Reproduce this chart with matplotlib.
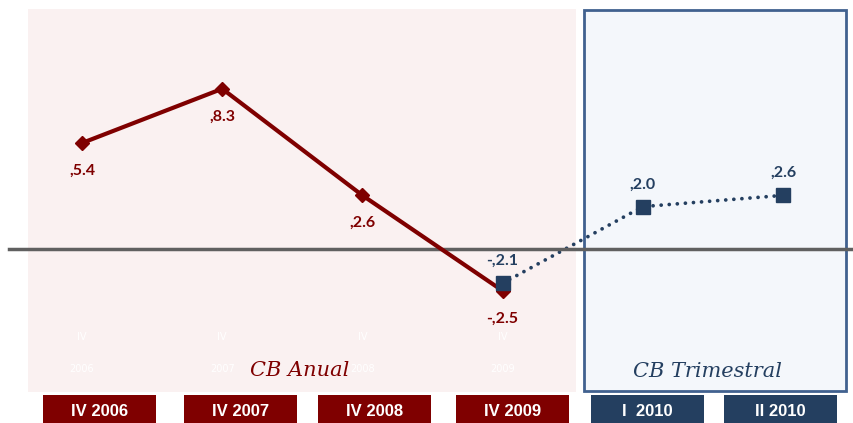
import matplotlib
matplotlib.use("Agg")
import matplotlib.pyplot as plt
from matplotlib.patches import Rectangle

# ---- data ----
annual_x = [0, 1, 2, 3]
annual_vals = [5.4, 8.3, 2.6, -2.5]
annual_labels = [",5.4", ",8.3", ",2.6", "-,2.5"]
quarter_x = [3, 4, 5]
quarter_vals = [-2.1, 2.0, 2.6]
quarter_labels = ["-,2.1", ",2.0", ",2.6"]
categories = ["IV 2006", "IV 2007", "IV 2008", "IV 2009", "I  2010", "II 2010"]
faint_top = ["IV", "IV", "IV", "IV"]
faint_bottom = ["2006", "2007", "2008", "2009"]

RED = "#7f0000"
BLUE = "#243f60"

W, H = 854, 423
fig = plt.figure(figsize=(W / 100, H / 100), dpi=100)
ax = fig.add_axes([0, 0, 1, 1])
px_x = 140.2
px_y = 18.7
x0_px = 82
zero_px = 244  # pixel row (from top) of value 0
ax.set_xlim(-x0_px / px_x, (W - x0_px) / px_x)
ax.set_ylim(-(H - zero_px) / px_y, zero_px / px_y)
ax.axis("off")

def dx(p):
    return (p - x0_px) / px_x

def dy(p):
    return (zero_px - p) / px_y

# background panels
ax.add_patch(Rectangle((dx(28), dy(392)), dx(576) - dx(28), dy(9) - dy(392),
                       facecolor="#faf1f1", edgecolor="none", zorder=0))
ax.add_patch(Rectangle((dx(584), dy(391)), dx(846) - dx(584), dy(10) - dy(391),
                       facecolor="#f4f7fb", edgecolor="#41618f", lw=2, zorder=1))

# faint tick labels
for x, t, b in zip(annual_x, faint_top, faint_bottom):
    ax.text(x, dy(337), t, color="white", fontsize=7, ha="center", va="center", zorder=2)
    ax.text(x, dy(369), b, color="white", fontsize=7, ha="center", va="center", zorder=2)

# series
ax.plot(annual_x, annual_vals, color=RED, lw=3, marker="D", markersize=7,
        zorder=4)
ax.plot(quarter_x, quarter_vals, color=BLUE, lw=2.7, linestyle=(0, (0.01, 2.15)),
        dash_capstyle="round", zorder=3)
ax.plot(quarter_x, quarter_vals, color=BLUE, lw=0, marker="s", markersize=10, zorder=5)

# baseline (drawn above the dotted line)
ax.axhline(dy(249), xmin=9 / W, xmax=1, color="#606060", lw=2.5, zorder=3.5)

lab_font = dict(family=["Lato", "DejaVu Sans"], fontweight="bold", fontsize=11.5)
for x, v, t in zip(annual_x, annual_vals, annual_labels):
    ax.annotate(t, (x, v), xytext=(0, -20), textcoords="offset points",
                ha="center", va="center", color=RED, zorder=6, **lab_font)
for x, v, t in zip(quarter_x, quarter_vals, quarter_labels):
    ax.annotate(t, (x, v), xytext=(0, 16), textcoords="offset points",
                ha="center", va="center", color=BLUE, zorder=6, **lab_font)

# panel titles
ax.text(dx(300), dy(370), "CB Anual", color=RED, fontsize=15, style="italic",
        family="DejaVu Serif", ha="center", va="center", zorder=6)
ax.text(dx(707), dy(371), "CB Trimestral", color=BLUE, fontsize=15, style="italic",
        family="DejaVu Serif", ha="center", va="center", zorder=6)

# category boxes
box_lr = [(43, 156), (184, 297), (318, 431), (456, 569), (591, 704), (724, 837)]
box_colors = [RED, RED, RED, RED, BLUE, BLUE]
for (l, r), c, lab in zip(box_lr, box_colors, categories):
    ax.add_patch(Rectangle((dx(l), dy(430)), dx(r) - dx(l), dy(395) - dy(430),
                           facecolor=c, edgecolor="none", zorder=3))
    ax.text(dx((l + r) / 2), dy(411), lab, color="white", fontsize=12,
            fontweight="bold", family="Liberation Sans", ha="center", va="center", zorder=6)

fig.savefig("out.png", dpi=100, facecolor="white")
